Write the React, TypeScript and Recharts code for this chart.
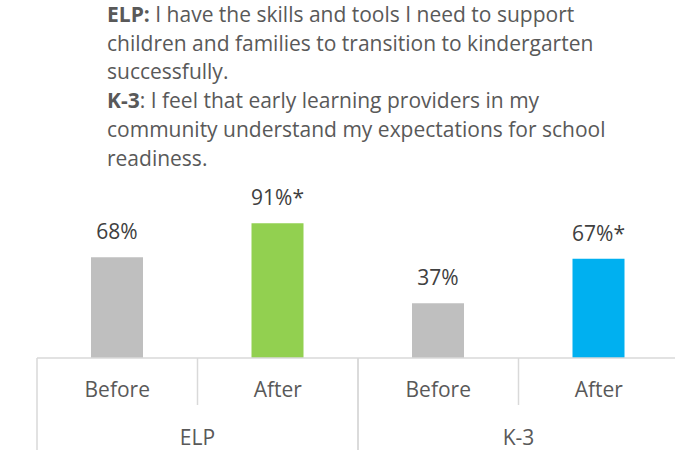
import React from "react";
import { BarChart, Bar, XAxis, YAxis, Cell, LabelList } from "recharts";

const groups = ["ELP", "ELP", "K-3", "K-3"];
const phases = ["Before", "After", "Before", "After"];
const values = [68, 91, 37, 67];
const valueLabels = ["68%", "91%*", "37%", "67%*"];
const barColors = ["#BFBFBF", "#92D050", "#BFBFBF", "#00B0F0"];

const data = phases.map((p, i) => ({
  key: `${groups[i]}-${p}-${i}`,
  phase: p,
  group: groups[i],
  value: values[i],
  label: valueLabels[i],
}));

const CHART_W = 700;
const CHART_H = 450;
const MARGIN = { top: 210, right: 21, bottom: 0, left: 37 };
const AXIS_H = 92;
const AXIS_Y = CHART_H - AXIS_H;
const BAND = (CHART_W - MARGIN.left - MARGIN.right) / data.length;
const FONT = "'Open Sans', sans-serif";
const LINE = "#D9D9D9";

const Tick = (props: any) => {
  const { x, payload, index } = props;
  const i = index as number;
  const d = data[i];
  const left = x - BAND / 2;
  const right = x + BAND / 2;
  const startsGroup = i === 0 || data[i - 1].group !== d.group;
  const endsGroup = i === data.length - 1 || data[i + 1].group !== d.group;
  let groupCenter = x;
  if (startsGroup) {
    let j = i;
    while (j + 1 < data.length && data[j + 1].group === d.group) j++;
    groupCenter = x + ((j - i) * BAND) / 2;
  }
  return (
    <g>
      <line
        x1={left}
        x2={left}
        y1={AXIS_Y}
        y2={startsGroup ? CHART_H : AXIS_Y + 47}
        stroke={LINE}
        strokeWidth={1.5}
      />
      {endsGroup && (
        <line x1={right} x2={right} y1={AXIS_Y} y2={CHART_H} stroke={LINE} strokeWidth={1.5} />
      )}
      <text
        x={x}
        y={AXIS_Y + 31}
        textAnchor="middle"
        dominantBaseline="central"
        fill="#595959"
        fontSize={21}
        fontFamily={FONT}
      >
        {payload.value}
      </text>
      {startsGroup && (
        <text
          x={groupCenter}
          y={AXIS_Y + 79}
          textAnchor="middle"
          dominantBaseline="central"
          fill="#595959"
          fontSize={21}
          fontFamily={FONT}
        >
          {d.group}
        </text>
      )}
    </g>
  );
};

export default function App() {
  return (
    <div
      style={{
        position: "absolute",
        left: 0,
        top: 0,
        width: 675,
        height: 450,
        overflow: "hidden",
        background: "#fff",
      }}
    >
      <div
        style={{
          position: "absolute",
          left: 107,
          top: 0,
          width: 568,
          fontFamily: FONT,
          fontSize: 21,
          lineHeight: "28.7px",
          color: "#595959",
          whiteSpace: "nowrap",
        }}
      >
        <div>
          <b>ELP:</b> I have the skills and tools I need to support
        </div>
        <div>children and families to transition to kindergarten</div>
        <div>successfully.</div>
        <div>
          <b>K-3</b>: I feel that early learning providers in my
        </div>
        <div>community understand my expectations for school</div>
        <div>readiness.</div>
      </div>
      <div style={{ position: "absolute", left: 0, top: 0 }}>
        <BarChart width={CHART_W} height={CHART_H} data={data} margin={MARGIN} barCategoryGap={0}>
          <YAxis hide domain={[0, 100]} />
          <XAxis
            dataKey="phase"
            height={AXIS_H}
            interval={0}
            tickLine={false}
            axisLine={{ stroke: LINE, strokeWidth: 1.5 }}
            tick={<Tick />}
          />
          <Bar dataKey="value" barSize={52} isAnimationActive={false}>
            {data.map((d, i) => (
              <Cell key={d.key} fill={barColors[i]} />
            ))}
            <LabelList
              dataKey="label"
              position="top"
              offset={18}
              fill="#404040"
              fontSize={21}
              fontFamily={FONT}
            />
          </Bar>
        </BarChart>
      </div>
    </div>
  );
}
